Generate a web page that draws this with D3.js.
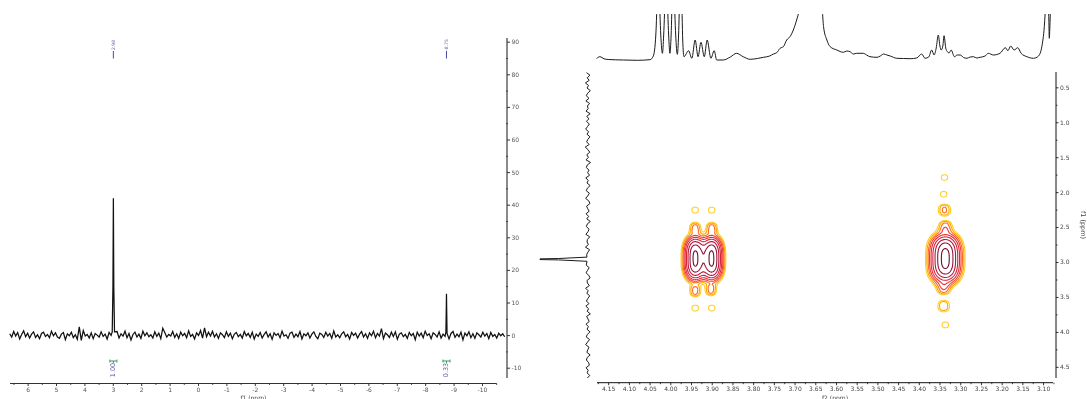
<!DOCTYPE html>
<html><head><meta charset="utf-8">
<script src="https://cdn.jsdelivr.net/npm/d3@7"></script>
<style>
html,body{margin:0;padding:0;background:#fff;}
svg{display:block;will-change:transform;}
svg text{-webkit-font-smoothing:antialiased;}
</style></head><body>
<svg id="c" width="1087" height="399"></svg>
<script>
// ================= DATA =================
// ---- 1D spectrum (left panel) ----
const ticks1D = [6,5,4,3,2,1,0,-1,-2,-3,-4,-5,-6,-7,-8,-9,-10];
const minorTicks1D = [6.5,5.5,4.5,3.5,2.5,1.5,0.5,-0.5,-1.5,-2.5,-3.5,-4.5,-5.5,-6.5,-7.5,-8.5,-9.5,-10.5];
const intensityTicks = [90,80,70,60,50,40,30,20,10,0,-10];
const intensityMinor = [85,75,65,55,45,35,25,15,5,-5];
const noise1DRange = [6.63, -10.8];
const noise1D = [
0.4,-0.6,1.1,-0.3,0.8,-1.2,0.2,1.3,-0.5,0.6,-0.9,0.3,1.0,-0.7,0.1,-1.1,0.5,0.9,-0.4,0.2,-0.8,1.2,-0.2,0.7,-0.6,
-1.0,0.3,0.8,-1.4,0.4,-0.2,0.9,-0.8,0.1,-1.3,2.5,-1.6,1.4,-0.3,0.2,-0.9,0.7,-1.1,0.5,0.0,-0.6,1.0,-0.4,0.3,-1.2,
0.8,-0.1,0.6,-0.7,1.1,-0.9,0.4,-0.3,1.2,-0.8,0.5,-1.5,0.2,0.9,-0.6,0.3,-1.0,1.2,-0.2,0.7,-0.5,0.1,-0.9,1.0,-0.4,
0.6,-1.1,2.1,0.8,-0.6,0.2,-0.3,1.1,-0.7,0.4,-1.0,0.9,-0.2,0.5,-0.8,1.3,-0.4,0.2,-1.2,0.7,-0.1,1.4,-0.9,2.2,-0.5,
0.9,-0.3,1.2,-0.6,0.4,-1.0,0.7,0.1,-0.8,1.0,-0.4,0.6,-1.1,0.3,0.8,-0.5,0.2,-0.9,1.1,-0.2,0.5,-0.7,0.9,-1.2,0.3,
-0.4,0.8,-0.9,0.2,1.0,-0.6,0.4,-1.3,0.7,-0.1,0.5,-0.8,1.2,-0.3,0.1,-1.0,0.6,0.9,-0.7,0.3,-0.5,1.1,-1.2,0.4,-0.2,
0.7,-0.9,0.3,1.0,-0.4,-1.1,0.6,0.2,-0.7,0.9,-0.3,0.5,-1.0,1.3,-0.6,0.1,-0.8,0.4,1.0,-0.5,0.2,-1.2,0.8,-0.1,0.6,
-0.9,0.3,1.1,-0.6,0.4,-1.0,0.7,-0.2,1.2,-0.8,0.5,-0.3,2.0,-1.1,0.6,0.1,-0.7,0.9,-0.4,1.0,-1.3,0.3,0.7,-0.5,0.2,
-1.0,0.8,-0.2,0.5,-1.4,0.9,-0.3,0.6,-0.8,1.2,-0.1,0.4,-1.1,0.7,0.2,-0.6,1.0,-0.9,0.3,-0.4,0.8,-1.2,0.5,1.1,-0.7,
0.3,-0.5,0.9,-1.5,0.6,-0.2,1.0,-0.8,0.4,-1.0,0.7,0.1,-0.6,0.9,-0.3,0.5,-1.1,0.8,-0.4,0.2,-0.9,0.6,-0.2,0.4,-0.5
];
const peaks1D = [[3.02,1],[2.995,15],[2.98,42],[2.965,15],[2.94,1],
                 [-8.73,1],[-8.743,8],[-8.75,12.7],[-8.757,8],[-8.77,0.5]];
const peakLabelPpm = [2.98, -8.75];
const peakLabelText = ["2.98", "-8.75"];
const integralPpm = [2.98, -8.75];
const integralText = ["1.00", "0.33"];

// ---- 2D spectrum (right panel) ----
const f2Ticks = [4.15,4.10,4.05,4.00,3.95,3.90,3.85,3.80,3.75,3.70,3.65,3.60,3.55,3.50,3.45,3.40,3.35,3.30,3.25,3.20,3.15,3.10];
const f2Minor = [4.175,4.125,4.075,4.025,3.975,3.925,3.875,3.825,3.775,3.725,3.675,3.625,3.575,3.525,3.475,3.425,3.375,3.325,3.275,3.225,3.175,3.125,3.075];
const f1Ticks2D = [0.5,1.0,1.5,2.0,2.5,3.0,3.5,4.0,4.5];
const f1Minor2D = [0.75,1.25,1.75,2.25,2.75,3.25,3.75,4.25];
// f2 projection (top trace): [ppm, intensity]
const topTrace = [
[4.178,1.5],[4.170,3.3],[4.160,1.2],[4.150,0.5],[4.113,0],[4.080,-0.3],[4.049,0.3],[4.041,4],
[4.035,25],[4.031,70],[4.029,90],[4.027,70],[4.023,25],[4.019,6.7],[4.016,25],[4.012,70],[4.010,90],[4.008,70],
[4.004,25],[4.001,6.7],[3.998,25],[3.995,70],[3.993,90],[3.991,70],[3.987,25],[3.983,5.7],[3.980,25],[3.977,70],
[3.975,90],[3.973,70],[3.970,20],[3.967,3.3],[3.956,9.3],[3.948,1.7],[3.940,20],[3.933,3.3],[3.926,17.7],
[3.918,3.3],[3.911,20],[3.902,1.7],[3.894,9.3],[3.888,0],[3.872,0],[3.855,3],[3.840,6.7],[3.824,3.3],[3.807,0.7],
[3.790,1.5],[3.775,2.7],[3.760,4],[3.751,6],[3.743,7.3],[3.735,11.7],[3.727,13.3],[3.719,20],[3.711,23.3],
[3.703,30],[3.695,40],[3.689,50],[3.675,120],[3.663,200],[3.645,120],[3.633,50],[3.630,33.3],[3.622,20],
[3.614,13.3],[3.598,10],[3.590,8.5],[3.582,7.7],[3.574,9],[3.566,8.3],[3.558,6],[3.550,6.7],[3.534,6.7],
[3.526,5],[3.518,3.3],[3.501,2.7],[3.493,4],[3.485,6],[3.477,5],[3.469,4],[3.453,1.7],[3.437,1.5],[3.421,1.3],
[3.405,2],[3.393,6],[3.385,1.7],[3.376,3],[3.369,10],[3.363,5],[3.358,12],[3.353,25],[3.349,14],[3.346,10],
[3.342,14],[3.339,24.3],[3.335,12],[3.331,8.3],[3.327,7],[3.322,10],[3.314,3.3],[3.307,5],[3.300,5],[3.292,2.5],
[3.284,1.7],[3.276,3],[3.268,3.3],[3.260,2],[3.252,2.7],[3.240,4],[3.232,6.7],[3.220,5],[3.204,6.7],[3.191,12.3],
[3.185,9.3],[3.178,14],[3.170,10],[3.161,12.3],[3.153,6.7],[3.139,3.3],[3.123,1.7],[3.111,4],[3.103,13.3],
[3.097,33.3],[3.093,60],[3.089,80],[3.086,40],[3.085,21.7],[3.083,40],[3.080,80],[3.076,80]
];
// f1 projection (left trace)
const noiseF1Range = [0.29, 4.66];
const noiseF1 = [
1.5,-2.0,0.8,-1.2,2.6,-0.5,1.0,-2.4,0.3,1.8,-1.0,2.2,-1.6,0.6,-0.2,2.0,-2.2,1.2,-0.8,1.6,
-1.4,0.4,2.4,-0.6,1.0,-2.0,0.2,1.4,-1.2,2.8,0.0,-1.8,1.2,-0.4,2.0,-2.6,0.8,1.6,-1.0,0.4,
-1.6,2.2,-0.2,1.0,-2.2,0.6,1.8,-1.4,0.2,2.4,-0.8,-2.0,1.4,0.4,-1.2,2.0,-0.6,1.2,-2.4,0.8,
1.6,-1.0,0.0,2.2,-1.8,0.6,1.0,-0.4,2.6,-1.6,0.2,1.4,-2.0,0.8,-0.6,1.8,-1.2,0.4,2.0,-0.8,
-2.2,1.0,0.6,-1.4,2.4,-0.2,1.2,-1.8,0.2,1.6,-1.0,2.2,-0.6,0.8,-2.4,1.4,0.0,-1.2,2.0,-0.4,
1.0,-2.0,0.6,1.8,-1.6,0.4,2.4,-1.0,0.2,1.2,-2.2,0.8,1.6,-0.6,-1.4,2.0,-0.2,1.0,-1.8,0.6
];
const spikeF1 = [[2.93,1],[2.95,30],[2.955,49],[2.965,49],[2.97,30],[2.99,1]];
// cross peaks: [f2 ppm, f1 ppm, amplitude, width f2 (ppm), width f1 (ppm)]
const crossPeaks = [
[3.940,2.950,94,0.0135,0.205],[3.900,2.950,94,0.0135,0.205],
[3.940,2.514,11,0.0090,0.065],[3.900,2.514,11,0.0090,0.065],
[3.940,2.257,6,0.0085,0.045],[3.900,2.257,6,0.0085,0.045],
[3.940,3.416,11,0.0090,0.065],[3.902,3.400,11,0.0090,0.065],
[3.940,3.660,6,0.0085,0.045],[3.900,3.660,6,0.0085,0.045],
[3.336,2.950,100,0.0188,0.226],
[3.336,2.495,11,0.0109,0.070],[3.338,2.257,10,0.0109,0.070],
[3.340,2.030,6,0.0085,0.043],[3.338,1.790,6,0.0085,0.043],
[3.340,3.378,11,0.0109,0.070],[3.340,3.630,9,0.0109,0.070],[3.336,3.900,6,0.0085,0.045]
];
const contourLevels = [4,6,9,13,19,28,42,62,88];
const contourColors = ["#ffcf26","#ffa800","#ff6a1e","#f23a2c","#e82a34","#d9203a","#b8183c","#941439","#6e0f2e"];

// ================= DRAW =================
const FONT = '"DejaVu Sans", Verdana, sans-serif';
const svg = d3.select("#c");

function styleAxis(g, color, size) {
  g.attr("font-family", FONT).attr("font-size", size);
  g.selectAll("text").attr("fill", color);
  g.selectAll("line").attr("stroke", "#333");
}

// ---------- Left panel ----------
const x1 = d3.scaleLinear().domain([6.62, -10.8]).range([10, 504.7]);
const y1 = d3.scaleLinear().domain([-10, 90]).range([367.7, 41.7]);

const n1 = noise1D.length;
const spec1D = noise1D
  .map((v, i) => [noise1DRange[0] + i * (noise1DRange[1] - noise1DRange[0]) / (n1 - 1), v])
  .filter(p => !peaks1D.some(q => Math.abs(q[0] - p[0]) < 0.03))
  .concat(peaks1D)
  .sort((a, b) => b[0] - a[0]);

svg.append("path").datum(spec1D)
  .attr("fill", "none").attr("stroke", "#111").attr("stroke-width", 1.25)
  .attr("d", d3.line().x(d => x1(d[0])).y(d => y1(d[1])));

// bottom axis
const axY1 = 383.5;
const gx1 = svg.append("g").attr("transform", `translate(0,${axY1})`)
  .call(d3.axisBottom(x1).tickValues(ticks1D).tickFormat(d => String(d)).tickSize(2.5).tickPadding(2));
gx1.select(".domain").remove();
styleAxis(gx1, "#555", 6);
const gx1m = svg.append("g").attr("transform", `translate(0,${axY1})`)
  .call(d3.axisBottom(x1).tickValues(minorTicks1D).tickFormat("").tickSize(1.5));
gx1m.select(".domain").remove();
gx1m.selectAll("line").attr("stroke", "#555");
svg.append("line").attr("x1", x1(6.62)).attr("x2", x1(-10.52)).attr("y1", axY1).attr("y2", axY1)
  .attr("stroke", "#333").attr("stroke-width", 1);
svg.append("text").attr("x", (x1(6.62) + x1(-10.52)) / 2).attr("y", 399.5)
  .attr("text-anchor", "middle").attr("font-family", FONT).attr("font-size", 6).attr("fill", "#444")
  .text("f1 (ppm)");

// right intensity axis
const axX1 = 507;
svg.append("line").attr("x1", axX1).attr("x2", axX1).attr("y1", 38).attr("y2", 378)
  .attr("stroke", "#8a8a8a").attr("stroke-width", 2);
const gy1 = svg.append("g").attr("transform", `translate(${axX1},0)`)
  .call(d3.axisRight(y1).tickValues(intensityTicks).tickFormat(d => String(d)).tickSize(3).tickPadding(1.5));
gy1.select(".domain").remove();
styleAxis(gy1, "#555", 6);
const gy1m = svg.append("g").attr("transform", `translate(${axX1 - 1},0)`)
  .call(d3.axisRight(y1).tickValues(intensityMinor).tickFormat("").tickSize(2));
gy1m.select(".domain").remove();
gy1m.selectAll("line").attr("stroke", "#444");

// peak labels
peakLabelPpm.forEach((p, i) => {
  const x = x1(p);
  svg.append("text").attr("transform", `translate(${x + 1.5},45) rotate(-90)`)
    .attr("text-anchor", "middle").attr("font-family", FONT).attr("font-size", 4.5)
    .attr("fill", "#6a6ab0").text(peakLabelText[i]);
  svg.append("line").attr("x1", x).attr("x2", x).attr("y1", 51).attr("y2", 58.5)
    .attr("stroke", "#4a4aa0").attr("stroke-width", 1);
});

// integrals
integralPpm.forEach((p, i) => {
  const x = x1(p);
  const g = svg.append("g").attr("stroke", "#3a9a60").attr("stroke-width", 1);
  g.append("line").attr("x1", x - 3.5).attr("x2", x + 3.5).attr("y1", 361).attr("y2", 361);
  g.append("line").attr("x1", x - 3.5).attr("x2", x - 3.5).attr("y1", 359.5).attr("y2", 362.5);
  g.append("line").attr("x1", x + 3.5).attr("x2", x + 3.5).attr("y1", 359.5).attr("y2", 362.5);
  g.append("line").attr("x1", x).attr("x2", x).attr("y1", 361).attr("y2", 363);
  svg.append("text").attr("transform", `translate(${x + 2},370) rotate(-90)`)
    .attr("text-anchor", "middle").attr("font-family", FONT).attr("font-size", 6.5)
    .attr("fill", "#5858a8").text(integralText[i]);
});

// ---------- Right panel ----------
const X0 = 597, X1 = 1053, Y0 = 72.3, Y1 = 378;
const x2 = d3.scaleLinear().domain([4.177, 3.076]).range([X0, X1]);
const y2 = d3.scaleLinear().domain([0.285, 4.66]).range([Y0, Y1]);

// top projection
svg.append("clipPath").attr("id", "topclip").append("rect")
  .attr("x", X0 - 1).attr("y", 14).attr("width", X1 - X0 + 2).attr("height", 56);
const yTop = d3.scaleLinear().domain([0, 46]).range([60, 14]);
svg.append("path").datum(topTrace).attr("clip-path", "url(#topclip)")
  .attr("fill", "none").attr("stroke", "#1a1a1a").attr("stroke-width", 1)
  .attr("d", d3.line().curve(d3.curveMonotoneX).x(d => x2(d[0])).y(d => yTop(d[1])));

// left (f1) projection
const nF = noiseF1.length;
const projF1 = noiseF1
  .map((v, i) => [noiseF1Range[0] + i * (noiseF1Range[1] - noiseF1Range[0]) / (nF - 1), v])
  .filter(p => !spikeF1.some(q => Math.abs(q[0] - p[0]) < 0.03))
  .concat(spikeF1)
  .sort((a, b) => a[0] - b[0]);
const xProj = d3.scaleLinear().domain([0, 50]).range([588, 539]);
svg.append("path").datum(projF1)
  .attr("fill", "none").attr("stroke", "#1a1a1a").attr("stroke-width", 1)
  .attr("d", d3.line().x(d => xProj(d[1])).y(d => y2(d[0])));

// contours
const gw = Math.round(X1 - X0) + 1, gh = Math.round(Y1 - Y0) + 1;
const grid = new Float64Array(gw * gh);
for (let j = 0; j < gh; j++) {
  const f1 = y2.invert(Y0 + j);
  for (let i = 0; i < gw; i++) {
    const f2 = x2.invert(X0 + i);
    let s = 0;
    for (const c of crossPeaks) {
      const u = (f2 - c[0]) / c[3];
      if (Math.abs(u) > 6) continue;
      const v = Math.abs((f1 - c[1]) / c[4]);
      if (v > 4) continue;
      s += c[2] * Math.exp(-0.5 * u * u) * Math.exp(-0.5 * v * v * v);
    }
    grid[j * gw + i] = s;
  }
}
const contours = d3.contours().size([gw, gh]).thresholds(contourLevels)(grid);
const gc = svg.append("g").attr("transform", `translate(${X0 - 0.5},${Y0 - 0.5})`);
gc.selectAll("path").data(contours).join("path")
  .attr("d", d3.geoPath())
  .attr("fill", "none")
  .attr("stroke", (d, i) => contourColors[i])
  .attr("stroke-width", 1.1)
  .attr("stroke-linejoin", "round");

// bottom f2 axis
const axY2 = 382.7;
const gx2 = svg.append("g").attr("transform", `translate(0,${axY2})`)
  .call(d3.axisBottom(x2).tickValues(f2Ticks).tickFormat(d3.format(".2f")).tickSize(2.5).tickPadding(2));
gx2.select(".domain").remove();
styleAxis(gx2, "#444", 6);
const gx2m = svg.append("g").attr("transform", `translate(0,${axY2})`)
  .call(d3.axisBottom(x2).tickValues(f2Minor).tickFormat("").tickSize(1.5));
gx2m.select(".domain").remove();
gx2m.selectAll("line").attr("stroke", "#444");
svg.append("line").attr("x1", X0).attr("x2", X1).attr("y1", axY2).attr("y2", axY2)
  .attr("stroke", "#111").attr("stroke-width", 1);
svg.append("text").attr("x", 835).attr("y", 399.5)
  .attr("text-anchor", "middle").attr("font-family", FONT).attr("font-size", 6).attr("fill", "#444")
  .text("f2 (ppm)");

// right f1 axis
const axX2 = 1056;
const gy2 = svg.append("g").attr("transform", `translate(${axX2},0)`)
  .call(d3.axisRight(y2).tickValues(f1Ticks2D).tickFormat(d3.format(".1f")).tickSize(2.5).tickPadding(1.5));
gy2.select(".domain").remove();
styleAxis(gy2, "#444", 6);
const gy2m = svg.append("g").attr("transform", `translate(${axX2},0)`)
  .call(d3.axisRight(y2).tickValues(f1Minor2D).tickFormat("").tickSize(1.5));
gy2m.select(".domain").remove();
gy2m.selectAll("line").attr("stroke", "#444");
svg.append("line").attr("x1", axX2).attr("x2", axX2).attr("y1", 72).attr("y2", 378)
  .attr("stroke", "#111").attr("stroke-width", 1);
svg.append("text").attr("transform", "translate(1081,225) rotate(90)")
  .attr("text-anchor", "middle").attr("font-family", FONT).attr("font-size", 6.5).attr("fill", "#444")
  .text("f1 (ppm)");
</script>
</body></html>
